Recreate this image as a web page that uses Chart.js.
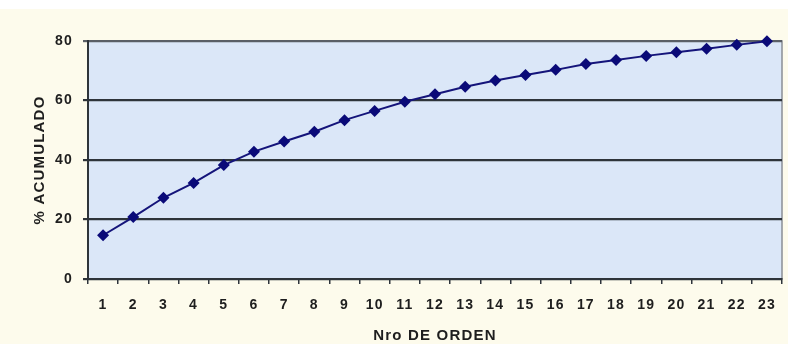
<!DOCTYPE html>
<html>
<head>
<meta charset="utf-8">
<script src="https://cdn.jsdelivr.net/npm/chart.js@4/dist/chart.umd.min.js"></script>
<style>
  html, body { margin: 0; padding: 0; background: #fdfbec; }
  #wrap { width: 788px; height: 344px; }
</style>
</head>
<body>
<div id="wrap"><canvas id="c" width="788" height="344"></canvas></div>
<script>
const categories = ["1","2","3","4","5","6","7","8","9","10","11","12","13","14","15","16","17","18","19","20","21","22","23"];
const acumulado = [14.7, 20.8, 27.3, 32.3, 38.3, 42.8, 46.2, 49.5, 53.4, 56.5, 59.6, 62.1, 64.6, 66.7, 68.6, 70.3, 72.3, 73.6, 75.0, 76.2, 77.4, 78.7, 79.9];
const yTicks = [0, 20, 40, 60, 80];
const xTitle = "Nro DE ORDEN";
const yTitle = "% ACUMULADO";

const bgPlugin = {
  id: 'bg',
  beforeDraw(chart) {
    const ctx = chart.ctx;
    ctx.save();
    ctx.fillStyle = '#ffffff';
    ctx.fillRect(0, 0, chart.width, chart.height);
    ctx.fillStyle = '#fdfbec';
    ctx.fillRect(0, 9, chart.width, chart.height - 9);
    const a = chart.chartArea;
    ctx.fillStyle = '#dbe7f8';
    ctx.fillRect(a.left, a.top, a.right - a.left, a.bottom - a.top);
    ctx.strokeStyle = '#8a8f96';
    ctx.lineWidth = 1.5;
    ctx.strokeRect(a.left, a.top, a.right - a.left, a.bottom - a.top);
    ctx.restore();
    ctx.letterSpacing = '1.2px';
  }
};

new Chart(document.getElementById('c'), {
  type: 'line',
  data: {
    labels: categories,
    datasets: [{
      data: acumulado,
      borderColor: '#14147a',
      backgroundColor: '#0a0a78',
      borderWidth: 2,
      pointStyle: 'rectRot',
      pointRadius: 6,
      pointHoverRadius: 6,
      pointBorderWidth: 0,
      tension: 0,
      clip: false
    }]
  },
  options: {
    responsive: false,
    animation: false,
    devicePixelRatio: 1,
    layout: { padding: { left: 0, right: 2, top: 41, bottom: 0 } },
    plugins: { legend: { display: false }, tooltip: { enabled: false } },
    scales: {
      x: {
        type: 'category',
        offset: true,
        afterFit(s) { s.height = 65; },
        grid: { display: true, drawOnChartArea: false, drawTicks: true, tickLength: 5, offset: true, color: '#2e343a', lineWidth: 1.5 },
        border: { display: true, color: '#2e343a', width: 2 },
        ticks: { color: '#1e1e1e', padding: 13, font: { family: 'Liberation Sans', size: 14, weight: 'bold' }, maxRotation: 0, autoSkip: false },
        title: { display: true, text: xTitle, color: '#1e1e1e', font: { family: 'Liberation Sans', size: 15, weight: 'bold', lineHeight: 1 }, padding: { top: 0, bottom: 1 } }
      },
      y: {
        min: 0, max: 80,
        afterFit(s) { s.width = 88; },
        afterBuildTicks(s) { s.ticks = yTicks.map(v => ({ value: v })); },
        grid: { display: true, drawTicks: true, tickLength: 5, color: (c) => c.tick && c.tick.value === 80 ? '#5a5f66' : '#2e343a', lineWidth: 2.2 },
        border: { display: true, color: '#2e343a', width: 2 },
        ticks: { color: '#1e1e1e', padding: 10, font: { family: 'Liberation Sans', size: 14, weight: 'bold' } },
        title: { display: true, text: yTitle, color: '#1e1e1e', font: { family: 'Liberation Sans', size: 15, weight: 'bold', lineHeight: 1.2 }, padding: { top: 31, bottom: 0 } }
      }
    }
  },
  plugins: [bgPlugin]
});
</script>
</body>
</html>
